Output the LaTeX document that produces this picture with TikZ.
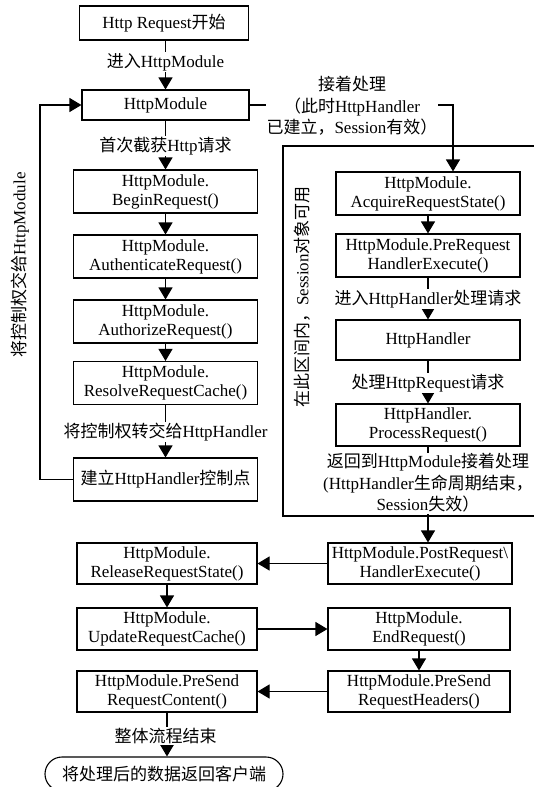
\documentclass[tikz,border=0pt]{standalone}
\usepackage{fontspec}
\setmainfont{Liberation Serif}
\newfontfamily\cjk{Noto Sans CJK SC}
\usetikzlibrary{arrows.meta}
\newcommand\zh[1]{{\cjk #1}}
\begin{document}
\begin{tikzpicture}[x=1pt,y=-1pt,
  box/.style={draw, line width=1.1pt, align=center, inner sep=0pt, font=\fontsize{17}{19}\selectfont},
  lbox/.style={box, minimum width=184pt, minimum height=43pt},
  rbox/.style={box, minimum width=182pt, minimum height=42pt},
  lbl/.style={fill=white, inner sep=1pt, align=center, font=\fontsize{17}{21.5}\selectfont},
  vlbl/.style={inner sep=0pt, rotate=90, font=\fontsize{17}{19}\selectfont},
  arr/.style={line width=1.1pt, -{Triangle[length=12pt,width=14pt]}},
  ln/.style={line width=1.1pt}]
\useasboundingbox (0,0) rectangle (534,787);

% left column
\node[box, minimum width=169pt, minimum height=34pt] (start) at (164,23) {Http Request\zh{开始}};
\node[box, minimum width=167pt, minimum height=30pt] (hm) at (165.5,105) {HttpModule};
\node[lbox] (begin) at (165.5,191.5) {HttpModule.\\BeginRequest()};
\node[lbox] (auth) at (165.5,256.5) {HttpModule.\\AuthenticateRequest()};
\node[lbox] (authz) at (165.5,321.5) {HttpModule.\\AuthorizeRequest()};
\node[lbox] (resolve) at (165.5,383) {HttpModule.\\ResolveRequestCache()};
\node[lbox] (build) at (165.5,479.5) {\zh{建立}HttpHandler\zh{控制点}};

% right column
\node[lbox] (acq) at (428,193.5) {HttpModule.\\AcquireRequestState()};
\node[lbox] (prereq) at (428,255.5) {HttpModule.PreRequest\\HandlerExecute()};
\node[lbox, minimum height=40pt] (handler) at (428,340) {HttpHandler};
\node[lbox, minimum height=42pt] (proc) at (428,425) {HttpHandler.\\ProcessRequest()};

% bottom part
\node[lbox, minimum height=41pt] (post) at (420,563.5) {HttpModule.PostRequest\textbackslash\\HandlerExecute()};
\node[box, minimum width=180pt, minimum height=41pt] (release) at (167,563.5) {HttpModule.\\ReleaseRequestState()};
\node[box, minimum width=180pt, minimum height=42pt] (update) at (167,629) {HttpModule.\\UpdateRequestCache()};
\node[rbox] (endreq) at (419,629) {HttpModule.\\EndRequest()};
\node[rbox, minimum height=41pt] (headers) at (419,691.5) {HttpModule.PreSend\\RequestHeaders()};
\node[box, minimum width=180pt, minimum height=41pt] (content) at (167,691.5) {HttpModule.PreSend\\RequestContent()};
\node[box, rounded corners=17pt, minimum width=238pt, minimum height=34pt] (final) at (164,774) {\zh{将处理后的数据返回客户端}};

% session region
\draw[ln] (540,146) -- (283,146) -- (283,516) -- (540,516);

% coordinates
\coordinate (c1) at (453,105);
\coordinate (c3) at (40,105);

% connectors
\draw[arr] (start.south -| hm.south) -- (hm.north);
\draw[arr] (hm) -- (begin);
\draw[arr] (begin) -- (auth);
\draw[arr] (auth) -- (authz);
\draw[arr] (authz) -- (resolve);
\draw[arr] (resolve) -- (build);
\draw[arr] (build.west) -| (c3) -- (hm.west);
\draw[arr] (hm.east) -- (c1) -- (c1 |- acq.north);
\draw[arr] (acq) -- (prereq);
\draw[arr] (prereq) -- (handler);
\draw[arr] (handler) -- (proc);
\draw[arr] (proc.south) -- (proc.south |- post.north);
\draw[arr] (post.west) -- (release.east);
\draw[arr] (release.south) -- (release.south |- update.north);
\draw[arr] (update.east) -- (update.east -| endreq.west);
\draw[arr] (endreq) -- (headers);
\draw[arr] (headers.west) -- (headers.west -| content.east);
\draw[arr] (content.south) -- (content.south |- final.north);

% labels
\node[lbl] (l1) at (165.5,62) {\zh{进入}HttpModule};
\node[lbl] (l2) at (165.5,146) {\zh{首次截获}Http\zh{请求}};
\node[lbl] (l3) at (165.5,432) {\zh{将控制权转交给}HttpHandler};
\node[lbl] (l4) at (352,106) {\zh{接着处理}\\\zh{（此时}HttpHandler\\\zh{已建立，}Session\zh{有效）}};
\node[lbl] (l5) at (428,299) {\zh{进入}HttpHandler\zh{处理请求}};
\node[lbl] (l6) at (428,383) {\zh{处理}HttpRequest\zh{请求}};
\node[lbl] (l7) at (428,483) {\zh{返回到}HttpModule\zh{接着处理}\\(HttpHandler\zh{生命周期结束，}\\Session\zh{失效）}};
\node[lbl] (l8) at (165.5,736) {\zh{整体流程结束}};
\node[vlbl] (v1) at (20,265) {\zh{将控制权交给}HttpModule};
\node[vlbl] (v2) at (302,297) {\zh{在此区间内，}Session\zh{对象可用}};
\end{tikzpicture}
\end{document}
